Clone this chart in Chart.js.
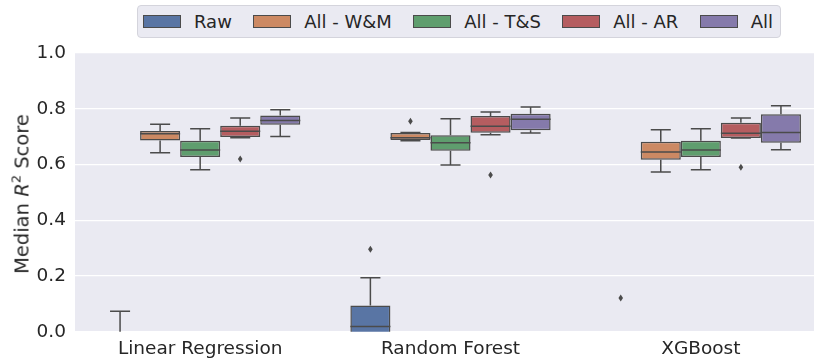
<!DOCTYPE html>
<html>
<head>
<meta charset="utf-8">
<script src="https://cdn.jsdelivr.net/npm/chart.js@4"></script>
<style>
  html, body { margin: 0; padding: 0; width: 814px; height: 358px; overflow: hidden; background: #fff; }
  body { position: relative; font-family: "DejaVu Sans", sans-serif; color: #262626; }
  #wrap { position: absolute; left: 0; top: 0; width: 830px; height: 358px; }
  #legend {
    position: absolute; left: 137px; top: 5px; width: 642px; height: 31px;
    box-sizing: content-box; padding: 0; 
    background: #eaeaf2; border: 1px solid #d4d4dc; border-radius: 4px;
    display: flex; align-items: center; justify-content: space-between;
    font-size: 18px; white-space: nowrap;
  }
  #legend .item { display: flex; align-items: center; flex-shrink: 0; }
  #legend .item:first-child { margin-left: 5px; }
  #legend .item:last-child { margin-right: 7px; }
  #legend .swatch { flex-shrink: 0; width: 38px; height: 13px; border: 1px solid #4b4b4b; box-sizing: border-box; margin-right: 13px; }
  #ytitle {
    position: absolute; left: 22px; top: 194px; transform: translate(-50%, -50%) rotate(-90deg);
    font-size: 19.5px; white-space: nowrap;
  }
  #ytitle sup { font-size: 13px; vertical-align: 8px; line-height: 0; }
</style>
</head>
<body>
<div id="wrap"><canvas id="chart" width="830" height="358"></canvas></div>
<div id="legend"></div>
<div id="ytitle">Median <i>R</i><sup>2</sup> Score</div>
<script>
// modelos en el eje x, conjuntos de variables como series
const models = ["Linear Regression", "Random Forest", "XGBoost"];
const featureSets = ["Raw", "All - W&M", "All - T&S", "All - AR", "All"];
const colors = ["#5975a4", "#cc8963", "#5f9e6e", "#b55d60", "#857aab"];

// estadisticos de cada caja: [serie][modelo]
const whiskerLow = [
  [-0.60, -0.30, -0.50],
  [0.642, 0.685, 0.573],
  [0.581, 0.598, 0.581],
  [0.696, 0.707, 0.695],
  [0.700, 0.713, 0.653]
];
const q1 = [
  [-0.40, -0.02, -0.30],
  [0.686, 0.688, 0.617],
  [0.627, 0.649, 0.627],
  [0.699, 0.714, 0.695],
  [0.743, 0.723, 0.678]
];
const median = [
  [-0.20, 0.019, -0.15],
  [0.710, 0.696, 0.645],
  [0.652, 0.678, 0.652],
  [0.719, 0.737, 0.712],
  [0.758, 0.762, 0.715]
];
const q3 = [
  [-0.05, 0.094, -0.05],
  [0.720, 0.713, 0.682],
  [0.685, 0.705, 0.685],
  [0.739, 0.774, 0.750],
  [0.776, 0.782, 0.780]
];
const whiskerHigh = [
  [0.073, 0.194, -0.01],
  [0.744, 0.715, 0.725],
  [0.728, 0.764, 0.728],
  [0.767, 0.788, 0.767],
  [0.796, 0.806, 0.811]
];
const outliers = [
  [[], [0.296], [0.121]],
  [[], [0.755], []],
  [[], [], []],
  [[0.620], [0.562], [0.590]],
  [[], [], []]
];
const yTicks = [0, 0.2, 0.4, 0.6, 0.8, 1.0];

const LINE = "#4b4b4b";

document.addEventListener("DOMContentLoaded", () => {
  renderLegend();
  renderChart();
});

/* ===========================================
                 LEYENDA
=========================================== */
function renderLegend() {
  const cont = document.getElementById("legend");
  featureSets.forEach((name, i) => {
    const item = document.createElement("div");
    item.className = "item";
    item.innerHTML = `<span class="swatch" style="background:${colors[i]}"></span><span>${name.replace("&", "&amp;")}</span>`;
    cont.appendChild(item);
  });
}

/* ===========================================
          FONDO + BIGOTES / MEDIANAS
=========================================== */
const plotBg = {
  id: "plotBg",
  beforeDraw(chart) {
    const { ctx, chartArea: a } = chart;
    ctx.save();
    ctx.fillStyle = "#eaeaf2";
    ctx.fillRect(a.left, a.top, a.right - a.left, a.bottom - a.top);
    ctx.restore();
  }
};

const boxParts = {
  id: "boxParts",
  afterDatasetsDraw(chart) {
    const { ctx, chartArea: a } = chart;
    const y = chart.scales.y;
    ctx.save();
    ctx.beginPath();
    ctx.rect(a.left, a.top, a.right - a.left, a.bottom - a.top);
    ctx.clip();
    ctx.strokeStyle = LINE;
    ctx.lineWidth = 1.5;
    featureSets.forEach((_, i) => {
      const meta = chart.getDatasetMeta(i);
      meta.data.forEach((bar, j) => {
        const x = bar.x;
        const half = bar.width / 2;
        const cap = bar.width / 4;
        const yl = y.getPixelForValue(whiskerLow[i][j]);
        const y1 = y.getPixelForValue(q1[i][j]);
        const ym = y.getPixelForValue(median[i][j]);
        const y3 = y.getPixelForValue(q3[i][j]);
        const yh = y.getPixelForValue(whiskerHigh[i][j]);
        ctx.beginPath();
        // bigotes
        ctx.moveTo(x, y3); ctx.lineTo(x, yh);
        ctx.moveTo(x, y1); ctx.lineTo(x, yl);
        ctx.moveTo(x - cap, yh); ctx.lineTo(x + cap, yh);
        ctx.moveTo(x - cap, yl); ctx.lineTo(x + cap, yl);
        // mediana
        ctx.moveTo(x - half, ym); ctx.lineTo(x + half, ym);
        ctx.stroke();
        // atipicos (rombos)
        ctx.fillStyle = LINE;
        outliers[i][j].forEach(v => {
          const py = y.getPixelForValue(v);
          ctx.beginPath();
          ctx.moveTo(x, py - 3.5);
          ctx.lineTo(x + 2.3, py);
          ctx.lineTo(x, py + 3.5);
          ctx.lineTo(x - 2.3, py);
          ctx.closePath();
          ctx.fill();
        });
      });
    });
    ctx.restore();
  }
};

/* ===========================================
                 GRAFICA
=========================================== */
function renderChart() {
  const ctx = document.getElementById("chart");
  const font = { family: "'DejaVu Sans', sans-serif", size: 18.5 };

  new Chart(ctx, {
    type: "bar",
    data: {
      labels: models,
      datasets: featureSets.map((name, i) => ({
        label: name,
        data: models.map((_, j) => [q1[i][j], q3[i][j]]),
        backgroundColor: colors[i],
        borderColor: LINE,
        borderWidth: 1.5,
        borderSkipped: false,
        categoryPercentage: 0.8,
        barPercentage: 1.0
      }))
    },
    options: {
      responsive: false,
      animation: false,
      devicePixelRatio: 1,
      layout: { padding: { top: 53, right: 4, left: 0, bottom: 0 } },
      plugins: {
        legend: { display: false },
        tooltip: { enabled: false }
      },
      scales: {
        x: {
          grid: { display: false, drawTicks: false },
          border: { display: false },
          ticks: { color: "#262626", font, padding: 6 },
          afterFit(scale) { scale.height = 26.3; }
        },
        y: {
          min: 0,
          max: 1,
          afterBuildTicks(scale) { scale.ticks = yTicks.map(v => ({ value: v })); },
          grid: { color: "#ffffff", lineWidth: 1.3, drawTicks: false },
          border: { display: false },
          ticks: {
            color: "#262626",
            font,
            padding: 9,
            callback: v => Number(v).toFixed(1)
          },
          afterFit(scale) { scale.width = 75; }
        }
      }
    },
    plugins: [plotBg, boxParts]
  });
}
</script>
</body>
</html>
